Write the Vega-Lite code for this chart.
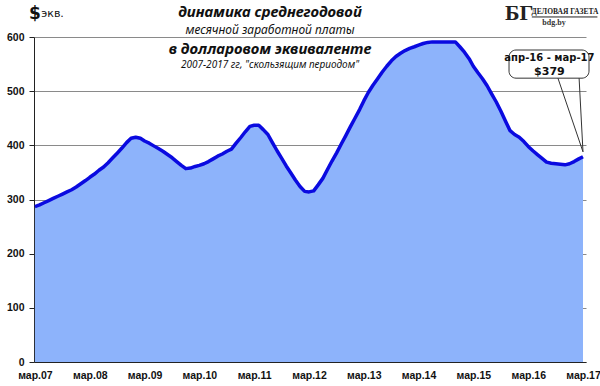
{
  "$schema": "https://vega.github.io/schema/vega-lite/v6.json",
  "width": 552,
  "height": 325,
  "autosize": {"type": "none"},
  "padding": {"left": 34, "top": 37, "right": 14, "bottom": 24},
  "background": "white",
  "config": {
    "view": {"stroke": null},
    "font": "DejaVu Sans",
    "axis": {"labelFont": "Liberation Sans", "labelFontWeight": "bold", "labelFontSize": 10.5, "labelColor": "#111"}
  },
  "layer": [
    {
      "data": {
        "values": [
          {"month": "2007-03", "value": 287}, {"month": "2007-04", "value": 290}, {"month": "2007-05", "value": 294},
          {"month": "2007-06", "value": 298}, {"month": "2007-07", "value": 302}, {"month": "2007-08", "value": 306},
          {"month": "2007-09", "value": 310}, {"month": "2007-10", "value": 314}, {"month": "2007-11", "value": 318},
          {"month": "2007-12", "value": 323}, {"month": "2008-01", "value": 329}, {"month": "2008-02", "value": 335},
          {"month": "2008-03", "value": 341}, {"month": "2008-04", "value": 347}, {"month": "2008-05", "value": 354},
          {"month": "2008-06", "value": 360}, {"month": "2008-07", "value": 368}, {"month": "2008-08", "value": 377},
          {"month": "2008-09", "value": 386}, {"month": "2008-10", "value": 395}, {"month": "2008-11", "value": 405},
          {"month": "2008-12", "value": 413}, {"month": "2009-01", "value": 415}, {"month": "2009-02", "value": 413},
          {"month": "2009-03", "value": 408}, {"month": "2009-04", "value": 404}, {"month": "2009-05", "value": 399},
          {"month": "2009-06", "value": 394}, {"month": "2009-07", "value": 389}, {"month": "2009-08", "value": 383},
          {"month": "2009-09", "value": 377}, {"month": "2009-10", "value": 370}, {"month": "2009-11", "value": 363},
          {"month": "2009-12", "value": 357}, {"month": "2010-01", "value": 358}, {"month": "2010-02", "value": 361},
          {"month": "2010-03", "value": 363}, {"month": "2010-04", "value": 366}, {"month": "2010-05", "value": 370},
          {"month": "2010-06", "value": 375}, {"month": "2010-07", "value": 380}, {"month": "2010-08", "value": 384},
          {"month": "2010-09", "value": 389}, {"month": "2010-10", "value": 393}, {"month": "2010-11", "value": 404},
          {"month": "2010-12", "value": 414}, {"month": "2011-01", "value": 425}, {"month": "2011-02", "value": 435},
          {"month": "2011-03", "value": 437}, {"month": "2011-04", "value": 437}, {"month": "2011-05", "value": 429},
          {"month": "2011-06", "value": 420}, {"month": "2011-07", "value": 405}, {"month": "2011-08", "value": 390},
          {"month": "2011-09", "value": 376}, {"month": "2011-10", "value": 362}, {"month": "2011-11", "value": 349},
          {"month": "2011-12", "value": 336}, {"month": "2012-01", "value": 324}, {"month": "2012-02", "value": 315},
          {"month": "2012-03", "value": 314}, {"month": "2012-04", "value": 316}, {"month": "2012-05", "value": 327},
          {"month": "2012-06", "value": 339}, {"month": "2012-07", "value": 355}, {"month": "2012-08", "value": 371},
          {"month": "2012-09", "value": 386}, {"month": "2012-10", "value": 402}, {"month": "2012-11", "value": 418},
          {"month": "2012-12", "value": 434}, {"month": "2013-01", "value": 450}, {"month": "2013-02", "value": 466},
          {"month": "2013-03", "value": 482}, {"month": "2013-04", "value": 498}, {"month": "2013-05", "value": 511},
          {"month": "2013-06", "value": 523}, {"month": "2013-07", "value": 535}, {"month": "2013-08", "value": 546},
          {"month": "2013-09", "value": 556}, {"month": "2013-10", "value": 564}, {"month": "2013-11", "value": 570},
          {"month": "2013-12", "value": 575}, {"month": "2014-01", "value": 579}, {"month": "2014-02", "value": 582},
          {"month": "2014-03", "value": 585}, {"month": "2014-04", "value": 588}, {"month": "2014-05", "value": 590},
          {"month": "2014-06", "value": 591}, {"month": "2014-07", "value": 591}, {"month": "2014-08", "value": 591},
          {"month": "2014-09", "value": 591}, {"month": "2014-10", "value": 591}, {"month": "2014-11", "value": 591},
          {"month": "2014-12", "value": 582}, {"month": "2015-01", "value": 572}, {"month": "2015-02", "value": 560},
          {"month": "2015-03", "value": 546}, {"month": "2015-04", "value": 534}, {"month": "2015-05", "value": 523},
          {"month": "2015-06", "value": 510}, {"month": "2015-07", "value": 495}, {"month": "2015-08", "value": 480},
          {"month": "2015-09", "value": 463}, {"month": "2015-10", "value": 445}, {"month": "2015-11", "value": 427},
          {"month": "2015-12", "value": 420}, {"month": "2016-01", "value": 415}, {"month": "2016-02", "value": 407},
          {"month": "2016-03", "value": 398}, {"month": "2016-04", "value": 390}, {"month": "2016-05", "value": 383},
          {"month": "2016-06", "value": 376}, {"month": "2016-07", "value": 369}, {"month": "2016-08", "value": 367},
          {"month": "2016-09", "value": 366}, {"month": "2016-10", "value": 365}, {"month": "2016-11", "value": 364},
          {"month": "2016-12", "value": 366}, {"month": "2017-01", "value": 370}, {"month": "2017-02", "value": 375},
          {"month": "2017-03", "value": 379}
        ]
      },
      "mark": {
        "type": "area",
        "color": "#8db3fb",
        "opacity": 1,
        "line": {"color": "#0a0ae0", "strokeWidth": 3.5, "strokeJoin": "round"}
      },
      "encoding": {
        "x": {
          "field": "month",
          "type": "temporal",
          "scale": {
            "type": "utc",
            "domain": [
              {"year": 2007, "month": 2, "date": 23, "utc": true},
              {"year": 2017, "month": 3, "date": 21, "utc": true}
            ]
          },
          "axis": {
            "title": null,
            "grid": false,
            "ticks": false,
            "domainColor": "#222",
            "domainWidth": 1,
            "labelPadding": 8,
            "zindex": 1,
            "values": [
              {"year": 2007, "month": 3, "date": 1, "utc": true},
              {"year": 2008, "month": 3, "date": 1, "utc": true},
              {"year": 2009, "month": 3, "date": 1, "utc": true},
              {"year": 2010, "month": 3, "date": 1, "utc": true},
              {"year": 2011, "month": 3, "date": 1, "utc": true},
              {"year": 2012, "month": 3, "date": 1, "utc": true},
              {"year": 2013, "month": 3, "date": 1, "utc": true},
              {"year": 2014, "month": 3, "date": 1, "utc": true},
              {"year": 2015, "month": 3, "date": 1, "utc": true},
              {"year": 2016, "month": 3, "date": 1, "utc": true},
              {"year": 2017, "month": 3, "date": 1, "utc": true}
            ],
            "labelExpr": "'мар.' + utcFormat(datum.value, '%y')",
            "labelFlush": false,
            "labelOverlap": false
          }
        },
        "y": {
          "field": "value",
          "type": "quantitative",
          "scale": {"domain": [0, 600], "nice": false, "zero": true},
          "axis": {
            "title": null,
            "values": [0, 100, 200, 300, 400, 500, 600],
            "grid": true,
            "gridColor": "#8a8a8a",
            "gridWidth": 1,
            "domainColor": "#222",
            "tickColor": "#222",
            "tickSize": 5,
            "labelPadding": 5
          }
        }
      }
    },
    {
      "data": {"values": [{}]},
      "mark": {"type": "rect", "fill": "white", "stroke": "#333", "strokeWidth": 1, "cornerRadius": 7},
      "encoding": {
        "x": {"datum": {"year": 2015, "month": 10, "date": 25, "utc": true}, "type": "temporal"},
        "x2": {"datum": {"year": 2017, "month": 4, "date": 10, "utc": true}},
        "y": {"datum": 576, "type": "quantitative"},
        "y2": {"datum": 524}
      }
    },
    {
      "data": {"values": [{}]},
      "mark": {"type": "rule", "stroke": "#333", "strokeWidth": 1},
      "encoding": {
        "x": {"datum": {"year": 2016, "month": 9, "date": 15, "utc": true}, "type": "temporal"},
        "x2": {"datum": {"year": 2017, "month": 3, "date": 1, "utc": true}},
        "y": {"datum": 524, "type": "quantitative"},
        "y2": {"datum": 388}
      }
    },
    {
      "data": {"values": [{}]},
      "mark": {"type": "rule", "stroke": "#333", "strokeWidth": 1},
      "encoding": {
        "x": {"datum": {"year": 2017, "month": 2, "date": 3, "utc": true}, "type": "temporal"},
        "x2": {"datum": {"year": 2017, "month": 3, "date": 1, "utc": true}},
        "y": {"datum": 524, "type": "quantitative"},
        "y2": {"datum": 388}
      }
    },
    {
      "data": {"values": [{}]},
      "mark": {"type": "text", "font": "DejaVu Sans", "fontSize": 10, "fontWeight": "bold", "color": "#111"},
      "encoding": {
        "x": {"datum": {"year": 2016, "month": 7, "date": 20, "utc": true}, "type": "temporal"},
        "y": {"datum": 561, "type": "quantitative"},
        "text": {"value": "апр-16 - мар-17"}
      }
    },
    {
      "data": {"values": [{}]},
      "mark": {"type": "text", "font": "DejaVu Sans", "fontSize": 11, "fontWeight": "bold", "color": "#111"},
      "encoding": {
        "x": {"datum": {"year": 2016, "month": 7, "date": 20, "utc": true}, "type": "temporal"},
        "y": {"datum": 535, "type": "quantitative"},
        "text": {"value": "$379"}
      }
    },
    {
      "data": {"values": [{}]},
      "mark": {"type": "text", "font": "Noto Sans", "fontSize": 15, "fontWeight": "bold", "fontStyle": "italic", "color": "#111"},
      "encoding": {
        "x": {"datum": {"year": 2011, "month": 6, "date": 15, "utc": true}, "type": "temporal"},
        "y": {"datum": 646, "type": "quantitative"},
        "text": {"value": "динамика среднегодовой"}
      }
    },
    {
      "data": {"values": [{}]},
      "mark": {"type": "text", "font": "Noto Sans", "fontSize": 12, "fontStyle": "italic", "color": "#111"},
      "encoding": {
        "x": {"datum": {"year": 2011, "month": 6, "date": 15, "utc": true}, "type": "temporal"},
        "y": {"datum": 613, "type": "quantitative"},
        "text": {"value": "месячной заработной платы"}
      }
    },
    {
      "data": {"values": [{}]},
      "mark": {"type": "text", "font": "Noto Sans", "fontSize": 15, "fontWeight": "bold", "fontStyle": "italic", "color": "#111"},
      "encoding": {
        "x": {"datum": {"year": 2011, "month": 6, "date": 15, "utc": true}, "type": "temporal"},
        "y": {"datum": 577, "type": "quantitative"},
        "text": {"value": "в долларовом эквиваленте"}
      }
    },
    {
      "data": {"values": [{}]},
      "mark": {"type": "text", "font": "Noto Sans", "fontSize": 10, "fontStyle": "italic", "color": "#111"},
      "encoding": {
        "x": {"datum": {"year": 2011, "month": 6, "date": 15, "utc": true}, "type": "temporal"},
        "y": {"datum": 548, "type": "quantitative"},
        "text": {"value": "2007-2017 гг, \"скользящим периодом\""}
      }
    },
    {
      "data": {"values": [{}]},
      "mark": {"type": "text", "font": "DejaVu Sans", "fontSize": 17, "fontWeight": "bold", "color": "#111", "align": "left"},
      "encoding": {
        "x": {"datum": {"year": 2007, "month": 1, "date": 20, "utc": true}, "type": "temporal"},
        "y": {"datum": 643, "type": "quantitative"},
        "text": {"value": "$"}
      }
    },
    {
      "data": {"values": [{}]},
      "mark": {"type": "text", "font": "DejaVu Sans", "fontSize": 11, "color": "#111", "align": "left"},
      "encoding": {
        "x": {"datum": {"year": 2007, "month": 4, "date": 12, "utc": true}, "type": "temporal"},
        "y": {"datum": 643, "type": "quantitative"},
        "text": {"value": "экв."}
      }
    },
    {
      "data": {"values": [{}]},
      "mark": {"type": "text", "font": "Liberation Serif", "fontSize": 22, "fontWeight": "bold", "color": "#222"},
      "encoding": {
        "x": {"datum": {"year": 2016, "month": 1, "date": 1, "utc": true}, "type": "temporal"},
        "y": {"datum": 644, "type": "quantitative"},
        "text": {"value": "БГ"}
      }
    },
    {
      "data": {"values": [{}]},
      "mark": {"type": "text", "font": "Liberation Serif", "fontSize": 7.5, "fontWeight": "bold", "color": "#222"},
      "encoding": {
        "x": {"datum": {"year": 2016, "month": 11, "date": 1, "utc": true}, "type": "temporal"},
        "y": {"datum": 647, "type": "quantitative"},
        "text": {"value": "ДЕЛОВАЯ ГАЗЕТА"}
      }
    },
    {
      "data": {"values": [{}]},
      "mark": {"type": "rule", "stroke": "#222", "strokeWidth": 1},
      "encoding": {
        "x": {"datum": {"year": 2016, "month": 3, "date": 25, "utc": true}, "type": "temporal"},
        "x2": {"datum": {"year": 2017, "month": 6, "date": 5, "utc": true}},
        "y": {"datum": 637, "type": "quantitative"}
      }
    },
    {
      "data": {"values": [{}]},
      "mark": {"type": "text", "font": "Liberation Serif", "fontSize": 8, "fontWeight": "bold", "color": "#333"},
      "encoding": {
        "x": {"datum": {"year": 2016, "month": 8, "date": 20, "utc": true}, "type": "temporal"},
        "y": {"datum": 626, "type": "quantitative"},
        "text": {"value": "bdg.by"}
      }
    }
  ]
}
